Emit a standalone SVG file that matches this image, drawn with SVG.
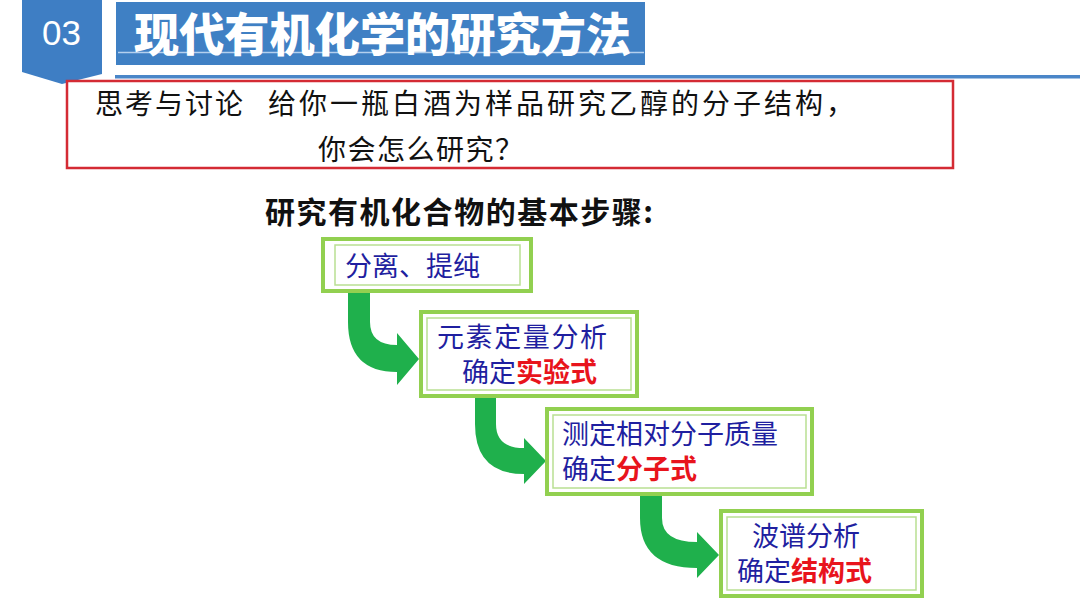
<svg xmlns="http://www.w3.org/2000/svg" width="1080" height="608" viewBox="0 0 1080 608">
<style>
.cjk{font-family:"Noto Sans CJK SC","Noto Sans",sans-serif}
.q{font-size:28px;fill:#111}
.box{fill:#fff;stroke:#92d050;stroke-width:4}
.inner{fill:none;stroke:#b9df92;stroke-width:1.5}
.bt{font-size:27px;fill:#1f1fa0}
.red{fill:#e8141c;font-weight:bold}
.arrow{fill:#1fb04c}
</style>
<rect width="1080" height="608" fill="#fff"/>
<g id="header">
<polygon points="22,0 102,0 102,74 62,84 22,72" fill="#3e7ec4"/>
<text x="42" y="45" font-family="'Liberation Sans',Arial,sans-serif" font-size="35" fill="#fff">03</text>
<rect x="116" y="2" width="529" height="63" fill="#3f80c4"/>
<line x1="118" y1="52.5" x2="644" y2="52.5" stroke="#b4d0ee" stroke-width="1.5"/>
<text class="cjk" x="134" y="51" font-size="46" font-weight="900" fill="#fff" textLength="497" lengthAdjust="spacingAndGlyphs">现代有机化学的研究方法</text>
<rect x="115" y="75" width="965" height="3.5" fill="#4a86c8"/>
</g>
<g id="question">
<rect x="67" y="81" width="886" height="87" fill="#fff" stroke="#d42b34" stroke-width="2.5"/>
<text class="cjk q" x="95" y="114" textLength="148">思考与讨论</text>
<text class="cjk q" x="268" y="114" textLength="586">给你一瓶白酒为样品研究乙醇的分子结构，</text>
<text class="cjk q" x="318" y="160" textLength="205">你会怎么研究？</text>
</g>
<g id="heading">
<text class="cjk" x="265" y="223" font-size="30" font-weight="bold" fill="#111" textLength="388">研究有机化合物的基本步骤:</text>
</g>
<g id="connectors">
<path class="arrow" d="M348,291 H370 V322 Q370,345 397,345 V333 L419,359 L397,385 V372 Q348,372 348,322 Z"/>
<path class="arrow" d="M475,396 H496 V424 Q496,448 524,448 V438 L546,461 L524,484 V474 Q475,474 475,424 Z"/>
<path class="arrow" d="M640,494 H662 V518 Q662,542 697,542 V532 L719,555 L697,578 V568 Q640,568 640,518 Z"/>
</g>
<g id="step1">
<rect class="box" x="323" y="239" width="208" height="52"/>
<rect class="inner" x="335" y="245" width="185" height="40"/>
<text class="cjk bt" x="345" y="276" font-size="26">分离、提纯</text>
</g>
<g id="step2">
<rect class="box" x="421" y="312" width="216" height="84"/>
<rect class="inner" x="427" y="318" width="204" height="72"/>
<text class="cjk bt" x="437" y="347" textLength="170">元素定量分析</text>
<text class="cjk bt" x="462" y="382">确定</text>
<text class="cjk bt red" x="516" y="382">实验式</text>
</g>
<g id="step3">
<rect class="box" x="547" y="409" width="265" height="85"/>
<rect class="inner" x="553" y="415" width="253" height="73"/>
<text class="cjk bt" x="562" y="444">测定相对分子质量</text>
<text class="cjk bt" x="562" y="479">确定</text>
<text class="cjk bt red" x="616" y="479">分子式</text>
</g>
<g id="step4">
<rect class="box" x="721" y="511" width="201" height="85"/>
<rect class="inner" x="727" y="517" width="189" height="73"/>
<text class="cjk bt" x="752" y="546">波谱分析</text>
<text class="cjk bt" x="737" y="581">确定</text>
<text class="cjk bt red" x="791" y="581">结构式</text>
</g>
</svg>
